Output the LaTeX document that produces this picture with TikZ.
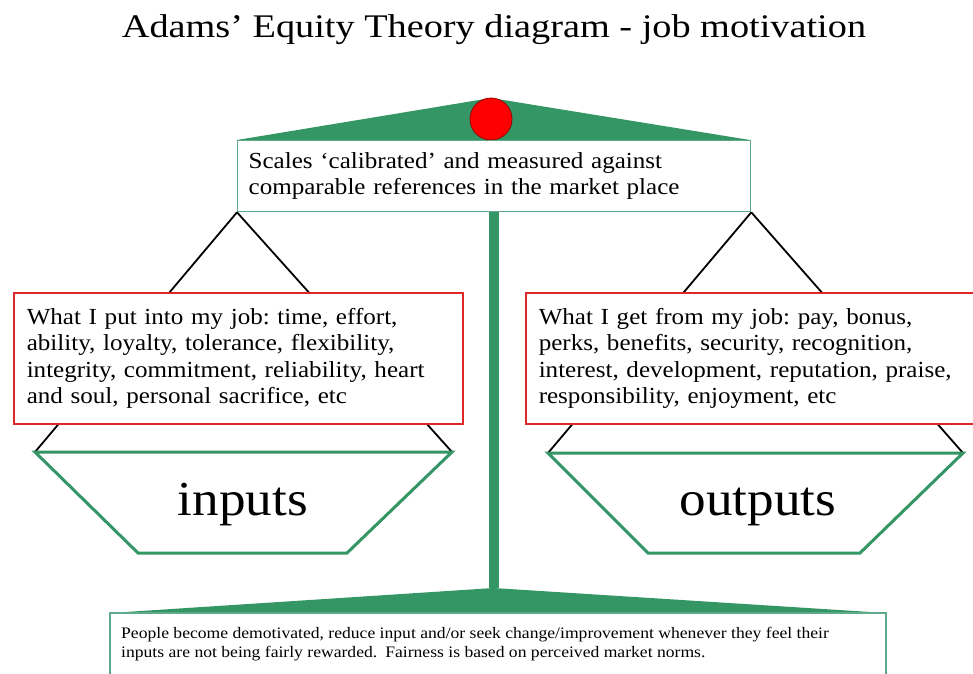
\documentclass[tikz,border=0pt]{standalone}
\usepackage{fontspec}
\setmainfont{Liberation Serif}[FakeStretch=1.09]
\newfontfamily\titlefont{Liberation Serif}[FakeStretch=1.16]
\newfontfamily\notefont{Liberation Serif}[FakeStretch=1.1]
\definecolor{beamgreen}{RGB}{52,150,100}
\definecolor{boxgreen}{RGB}{96,170,140}
\definecolor{boxred}{RGB}{222,40,40}
\frenchspacing
\begin{document}
\begin{tikzpicture}[x=1pt,y=-1pt,
  beam/.style={fill=beamgreen},
  calibbox/.style={draw=boxgreen,line width=1.3pt,fill=white,anchor=north west,align=left,
    inner ysep=0pt,font=\fontsize{23}{26.3}\selectfont},
  redbox/.style={draw=boxred,line width=1.5pt,fill=white,anchor=north west,align=left,
    inner xsep=13pt,inner ysep=0pt,minimum height=131pt,font=\fontsize{23}{26.3}\selectfont},
  hanger/.style={draw=black,line width=1.8pt},
  pan/.style={draw=beamgreen,line width=3pt,line join=miter},
  panlabel/.style={anchor=base,inner sep=0pt,font=\fontsize{48.8}{55}\selectfont},
  notebox/.style={draw=boxgreen,line width=1.3pt,fill=white}]
\clip (0,0) rectangle (973,673);
\fill[white] (0,0) rectangle (973,673);

% title
\node[anchor=base,inner sep=0pt,font=\titlefont\fontsize{33}{40}\selectfont] (title) at (494,37)
  {Adams’ Equity Theory diagram - job motivation};

% top beam with pivot
\fill[beam] (237,140) -- (491,98) -- (750,140) -- cycle;
\node[circle,draw=red!60!black,line width=0.8pt,fill=red,minimum size=42pt,inner sep=0pt] (pivot) at (491,119) {};

% calibration box
\node[calibbox,minimum width=513pt,minimum height=71pt,text width=491pt,inner xsep=11pt] (calib) at (237,140)
  {Scales ‘calibrated’ and measured against\\comparable references in the market place};

% pole and base
\coordinate (base) at (493.5,588);
\fill[beamgreen] ([xshift=-5.5pt]calib.south) rectangle ([xshift=5.5pt]base);
\fill[beam] (110,613) -- (base) -- (886,613) -- cycle;

% pan corners
\coordinate (lp1) at (35,452);  \coordinate (lp2) at (452,452);
\coordinate (lp3) at (347,553); \coordinate (lp4) at (138,553);
\coordinate (rp1) at (548,453); \coordinate (rp2) at (963,453);
\coordinate (rp3) at (860,553); \coordinate (rp4) at (648,553);

% hanging strings
\draw[hanger] (calib.south west) -- (lp1);
\draw[hanger] (calib.south west) -- (lp2);
\draw[hanger] (calib.south east) -- (rp1);
\draw[hanger] (calib.south east) -- (rp2);

% description boxes
\node[redbox,minimum width=449pt,text width=423pt] (putin) at (13,292)
  {What I put into my job: time, effort,\\ability, loyalty, tolerance, flexibility,\\integrity, commitment, reliability, heart\\and soul, personal sacrifice, etc};
\node[redbox,minimum width=460pt,text width=434pt] (getout) at (525,292)
  {What I get from my job: pay, bonus,\\perks, benefits, security, recognition,\\interest, development, reputation, praise,\\responsibility, enjoyment, etc};

% pans
\draw[pan] (lp1) -- (lp2) -- (lp3) -- (lp4) -- cycle;
\draw[pan] (rp1) -- (rp2) -- (rp3) -- (rp4) -- cycle;
\node[panlabel] (inputs) at (243,515) {inputs};
\node[panlabel] (outputs) at (758,515) {outputs};

% note box
\draw[notebox] (110,613) rectangle (886,690);
\node[anchor=north west,align=left,inner sep=0pt,font=\notefont\fontsize{16}{19}\selectfont] (note) at (121,627)
  {People become demotivated, reduce input and/or seek change/improvement whenever they feel their\\inputs are not being fairly rewarded.\enspace Fairness is based on perceived market norms.};
\end{tikzpicture}
\end{document}
